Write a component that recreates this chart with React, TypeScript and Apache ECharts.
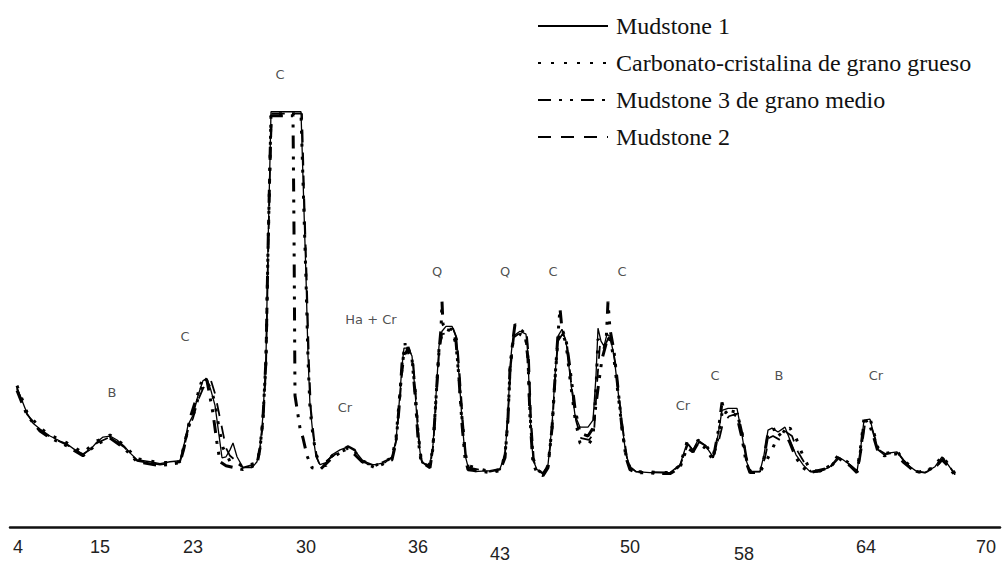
import React, { useEffect, useRef } from "react";
import * as echarts from "echarts";

// x: detector channel (position along the scan), y: intensity (arbitrary counts)
const mudstone1: number[][] = [
  [7,141],[12,128],[17,115],[23,105],[30,99],[40,92],[50,87],[57,84],[65,78],[73,74],[80,78],[87,86],[93,91],[100,92],[107,88],[114,82],[120,75],[127,68],[140,66],[150,64],[160,66],[170,67],[174,83],[178,103],[183,113],[188,133],[193,148],[197,150],[201,138],[205,123],[209,93],[212,70],[216,71],[220,78],[223,85],[227,71],[233,60],[242,60],[247,66],[250,81],[253,113],[256,173],[258,283],[260,373],[261,420],[291,420],[293,353],[296,253],[298,173],[300,123],[303,93],[306,71],[310,63],[316,65],[322,73],[330,78],[338,81],[345,77],[352,68],[358,63],[365,63],[375,65],[382,71],[386,88],[389,123],[392,163],[394,181],[398,181],[402,173],[405,138],[408,93],[411,68],[415,63],[420,63],[423,83],[426,133],[429,183],[432,198],[436,203],[442,203],[446,193],[449,153],[452,108],[455,73],[458,61],[465,56],[480,57],[490,59],[495,73],[498,113],[500,163],[503,193],[510,198],[516,195],[518,173],[520,113],[523,68],[527,58],[533,55],[538,63],[542,103],[545,153],[548,193],[552,200],[556,188],[560,153],[565,113],[570,101],[578,101],[583,108],[586,153],[588,201],[591,188],[594,183],[597,195],[600,193],[604,173],[608,138],[612,103],[616,73],[620,61],[626,56],[640,55],[660,55],[670,63],[677,85],[683,78],[688,88],[695,83],[703,71],[708,93],[712,118],[718,120],[727,120],[732,93],[736,68],[740,56],[750,56],[754,73],[758,98],[762,100],[768,96],[775,101],[780,88],[786,73],[793,63],[800,56],[810,56],[820,61],[828,71],[833,68],[840,63],[847,56],[851,83],[854,108],[860,109],[864,93],[868,78],[874,73],[880,75],[887,76],[893,68],[900,61],[907,56],[915,55],[925,61],[932,71],[938,63],[945,53]
];

const carbonato: number[][] = [
  [7,143],[17,116],[30,100],[40,93],[57,85],[73,75],[87,87],[100,93],[114,83],[127,69],[150,65],[170,66],[174,82],[178,100],[183,112],[188,130],[193,146],[197,146],[201,140],[205,125],[209,100],[213,80],[216,75],[220,66],[227,65],[233,61],[247,65],[250,79],[253,110],[256,170],[258,280],[260,370],[261,418],[291,418],[293,350],[296,250],[298,170],[300,120],[303,92],[306,74],[310,64],[316,62],[322,72],[330,76],[338,79],[345,76],[352,67],[365,62],[382,70],[386,90],[389,125],[392,160],[394,178],[398,178],[402,170],[405,140],[408,96],[411,70],[420,62],[423,82],[426,130],[429,180],[432,196],[436,200],[442,198],[446,185],[449,150],[452,110],[455,76],[458,62],[480,56],[490,58],[495,72],[498,110],[500,160],[503,188],[510,195],[516,192],[518,170],[520,115],[523,70],[527,58],[533,54],[538,62],[542,100],[545,150],[548,190],[552,197],[556,186],[560,150],[565,110],[570,85],[578,83],[583,90],[586,140],[588,190],[591,186],[594,180],[597,192],[600,190],[604,170],[608,135],[612,100],[616,72],[620,60],[626,56],[660,55],[670,62],[677,86],[683,76],[688,88],[695,84],[703,72],[708,90],[712,115],[718,118],[727,116],[732,95],[736,70],[740,56],[750,56],[754,62],[758,70],[762,78],[768,92],[775,98],[780,100],[786,90],[793,72],[800,58],[810,56],[820,62],[828,72],[833,69],[840,64],[847,56],[851,84],[854,110],[860,110],[864,95],[868,80],[874,74],[887,77],[893,68],[900,62],[907,56],[915,55],[925,62],[932,72],[938,64],[945,54]
];

const mudstone3: number[][] = [
  [7,138],[17,113],[30,97],[40,90],[57,82],[73,72],[87,84],[100,90],[114,80],[127,66],[150,62],[170,65],[174,80],[180,110],[188,135],[193,152],[197,148],[203,115],[207,85],[210,66],[216,62],[233,58],[247,63],[250,80],[253,110],[256,170],[258,280],[260,370],[261,416],[283,416],[284,300],[285,133],[290,100],[293,90],[297,72],[302,60],[310,58],[322,70],[338,80],[352,66],[365,60],[382,68],[386,86],[389,120],[392,165],[394,178],[395,186],[396,175],[398,182],[402,170],[405,135],[408,90],[411,66],[420,60],[423,80],[426,130],[429,178],[431,200],[432,228],[433,205],[436,200],[442,200],[446,188],[449,150],[452,104],[455,70],[458,58],[480,55],[490,57],[495,70],[498,110],[500,160],[503,190],[505,205],[510,200],[515,196],[518,170],[520,110],[523,64],[527,55],[533,52],[538,60],[542,100],[545,150],[548,195],[550,221],[552,200],[556,190],[560,160],[565,120],[570,95],[578,92],[583,100],[588,140],[592,170],[596,185],[598,228],[600,200],[604,178],[608,140],[612,100],[616,70],[620,58],[626,55],[660,54],[670,60],[677,80],[683,76],[688,85],[695,80],[703,68],[708,95],[712,126],[715,115],[718,118],[727,112],[732,90],[736,66],[740,55],[750,55],[754,70],[758,95],[762,98],[768,100],[775,96],[780,85],[786,70],[793,60],[800,55],[820,60],[828,70],[840,62],[847,55],[851,80],[854,106],[858,108],[864,90],[868,76],[874,72],[887,74],[893,66],[900,60],[907,55],[925,60],[932,68],[938,62],[945,52]
];

const mudstone2: number[][] = [
  [7,140],[17,114],[30,98],[40,91],[57,83],[73,73],[87,85],[100,91],[114,81],[127,67],[150,63],[170,66],[174,80],[178,98],[183,110],[188,128],[193,140],[197,146],[201,148],[205,135],[209,115],[213,95],[216,80],[220,72],[227,66],[233,60],[247,64],[250,78],[253,105],[256,160],[258,270],[260,360],[262,418],[292,418],[294,340],[297,240],[299,165],[301,118],[304,90],[307,70],[310,62],[322,71],[330,77],[338,82],[345,78],[352,67],[365,62],[382,70],[386,86],[389,118],[392,155],[395,176],[399,180],[403,170],[406,130],[409,88],[412,65],[420,62],[423,80],[426,125],[429,175],[432,195],[437,196],[443,201],[447,190],[450,150],[453,105],[456,72],[459,60],[480,56],[490,58],[495,74],[498,115],[501,165],[504,192],[511,197],[517,193],[519,170],[521,110],[524,66],[528,57],[533,54],[538,62],[542,98],[545,148],[548,188],[553,196],[557,185],[561,148],[566,108],[571,90],[579,88],[584,95],[587,145],[590,185],[594,182],[598,190],[601,188],[605,168],[609,132],[613,98],[617,70],[621,60],[626,56],[660,55],[670,62],[678,84],[684,76],[689,86],[696,82],[703,70],[709,88],[713,105],[719,112],[728,115],[733,92],[737,68],[741,56],[750,56],[755,70],[759,90],[763,92],[770,88],[776,96],[782,92],[788,76],[795,64],[801,56],[810,56],[820,60],[829,70],[841,62],[848,56],[852,82],[855,104],[861,102],[865,90],[869,78],[875,74],[888,75],[894,67],[901,60],[908,56],[915,55],[926,60],[933,70],[939,62],[945,53]
];

// axis tick labels (2θ) and the channel where each is printed
const tickLabels = ["4", "15", "23", "30", "36", "43", "50", "58", "64", "70"];
const tickPositions = [8, 90, 183, 296, 408, 490, 620, 734, 856, 976];
const lowLabels = ["43", "58"];

// phase annotations
const annoText = ["B", "C", "C", "Cr", "Ha + Cr", "Q", "Q", "C", "C", "Cr", "C", "B", "Cr"];
const annoX = [102, 175, 270, 335, 361, 427, 495, 543, 612, 673, 705, 769, 866];
const annoY = [136, 193, 458, 121, 210, 258, 258, 258, 258, 123, 153, 153, 153];

const seriesNames = [
  "Mudstone 1",
  "Carbonato-cristalina de grano grueso",
  "Mudstone 3 de grano medio",
  "Mudstone 2",
];

export default function App() {
  const ref = useRef<HTMLDivElement>(null);
  useEffect(() => {
    if (!ref.current) return;
    const chart = echarts.init(ref.current, null, { renderer: "svg" });
    const lineBase = {
      type: "line",
      showSymbol: false,
      symbol: "none",
      silent: true,
      z: 3,
    };
    chart.setOption({
      animation: false,
      backgroundColor: "#ffffff",
      grid: { left: 10, right: 5, top: 0, bottom: 30, containLabel: false },
      legend: {
        orient: "vertical",
        left: 532,
        top: 8,
        itemWidth: 70,
        itemHeight: 14,
        itemGap: 11,
        data: seriesNames,
        selectedMode: false,
        itemStyle: { color: "transparent", borderWidth: 0, opacity: 0 },
        textStyle: {
          fontFamily: "Liberation Serif",
          fontSize: 24,
          color: "#111",
          lineHeight: 26,
          padding: [0, 0, 0, 3],
        },
      },
      xAxis: {
        type: "value",
        min: 0,
        max: 990,
        axisLine: { show: true, lineStyle: { color: "#111", width: 2.5 } },
        axisTick: { show: false },
        splitLine: { show: false },
        axisLabel: {
          show: true,
          customValues: tickPositions,
          margin: 11,
          fontFamily: "Liberation Sans",
          fontSize: 18,
          color: "#222",
          formatter: (v: number) => {
            const i = tickPositions.indexOf(v);
            const t = i >= 0 ? tickLabels[i] : "";
            return lowLabels.includes(t) ? "{low|" + t + "}" : t;
          },
          rich: {
            low: {
              fontFamily: "Liberation Sans",
              fontSize: 18,
              color: "#222",
              padding: [7, 0, 0, 0],
            },
          },
        },
      },
      yAxis: {
        type: "value",
        min: 0,
        max: 533,
        show: false,
        splitLine: { show: false },
      },
      series: [
        {
          ...lineBase,
          name: seriesNames[0],
          data: mudstone1,
          lineStyle: { color: "#000", width: 1.3, type: "solid" },
          itemStyle: { color: "#000" },
        },
        {
          ...lineBase,
          name: seriesNames[1],
          data: carbonato,
          lineStyle: { color: "#000", width: 3, type: [3, 10] },
          itemStyle: { color: "#000" },
        },
        {
          ...lineBase,
          name: seriesNames[2],
          data: mudstone3,
          lineStyle: { color: "#000", width: 3, type: [13, 8, 3, 8, 3, 8] },
          itemStyle: { color: "#000" },
        },
        {
          ...lineBase,
          name: seriesNames[3],
          data: mudstone2,
          lineStyle: { color: "#000", width: 1.8, type: [13, 10] },
          itemStyle: { color: "#000" },
        },
        {
          type: "scatter",
          name: "annotations",
          symbolSize: 0,
          silent: true,
          data: annoText.map((t, i) => ({ value: [annoX[i], annoY[i]], name: t })),
          label: {
            show: true,
            position: "inside",
            formatter: (p: any) => p.name,
            fontFamily: "DejaVu Sans",
            fontSize: 13,
            color: "#222",
          },
        },
      ],
    });
    return () => chart.dispose();
  }, []);
  return (
    <div
      ref={ref}
      style={{ position: "absolute", left: 0, top: 0, width: 1005, height: 563, background: "#fff" }}
    />
  );
}
